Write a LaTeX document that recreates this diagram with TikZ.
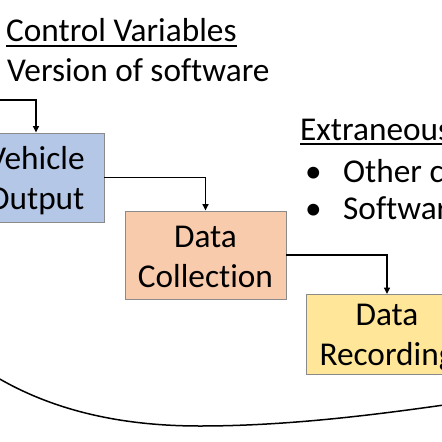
\documentclass[tikz,border=0pt]{standalone}
\usepackage{fontspec}
\setmainfont{Carlito}[Ligatures=NoCommon]
\usetikzlibrary{arrows.meta}
\definecolor{vblue}{HTML}{B4C7E7}
\definecolor{dsalmon}{HTML}{F8CBAD}
\definecolor{ryellow}{HTML}{FFE699}
\definecolor{edgegrey}{HTML}{8A8A8A}
\tikzset{
  box/.style={draw=edgegrey, line width=0.9pt, align=center, inner sep=0pt,
    font=\fontsize{33.3}{40.5}\selectfont},
  lbl/.style={anchor=base west, inner sep=0pt, font=\fontsize{33.3}{40}\selectfont},
  arr/.style={draw=black, line width=1.5pt, -{Triangle[width=6pt,length=6.5pt]}},
  uline/.style={line width=2pt},
  curve/.style={line width=1.5pt}
}
\begin{document}
\begin{tikzpicture}[x=1pt,y=-1pt]
\useasboundingbox (0,0) rectangle (442,442);
\clip (0,0) rectangle (442,442);
\fill[white] (0,0) rectangle (442,442);
% headings
\node[lbl] (cvt) at (6,41.5) {Control Variables};
\draw[uline] ([yshift=-4pt]cvt.base west) -- ([yshift=-4pt]cvt.base east);
\node[lbl] (ver) at (7,81.7) {Version of software};
\node[lbl] (ext) at (300,140) {Extraneous};
\draw[uline] ([yshift=-4pt]ext.base west) -- ([yshift=-4pt,xshift=40pt]ext.base east);
\node[lbl] (b1) at (305,182) {•};
\node[lbl] (o1) at (343,182) {Other c};
\node[lbl] (b2) at (305,219.3) {•};
\node[lbl] (o2) at (343,219.3) {Software};
% boxes
\node[box, fill=vblue, minimum width=136pt, minimum height=89pt] (veh) at (36,177.5) {\rule{0pt}{29pt}Vehicle\\Output};
\node[box, fill=dsalmon, minimum width=161pt, minimum height=88pt] (dc) at (205.5,255) {\rule{0pt}{25pt}Data\\Collection};
\node[box, fill=ryellow, minimum width=161pt, minimum height=80pt] (rec) at (387,334.5) {\rule{0pt}{28pt}Data\\Recording};
% connectors
\coordinate (cvin) at (-5,100);
\draw[arr] (cvin) -| (veh.north);
\draw[arr] (veh.east) -| (dc.north);
\draw[arr] (dc.east) -| (rec.north);
% bottom curve
\coordinate (cl) at (-2,378);
\coordinate (cm) at (200,426);
\coordinate (cr) at (444,405);
\draw[curve] (cl) .. controls (60,414) and (130,426) .. (cm) .. controls (290,426) and (380,414) .. (cr);
\end{tikzpicture}
\end{document}
